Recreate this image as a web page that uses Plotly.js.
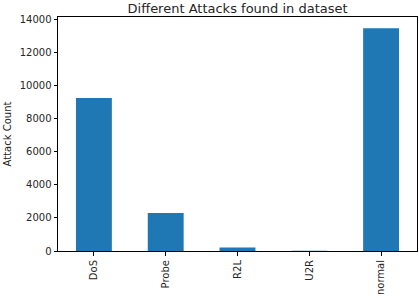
<!DOCTYPE html>
<html><head><meta charset="utf-8">
<script src="https://cdn.plot.ly/plotly-3.0.1.min.js"></script>
<style>html,body{margin:0;padding:0;background:#fff;}#chart{width:419px;height:298px;}</style>
</head><body><div id="chart"></div>
<script>
const categories = ["DoS", "Probe", "R2L", "U2R", "normal"];
const counts = [9234, 2289, 209, 11, 13449];
const yTicks = [0, 2000, 4000, 6000, 8000, 10000, 12000, 14000];

const font = {family: "DejaVu Sans", size: 10, color: "#262626"};
const data = [{
  type: "bar", x: categories, y: counts,
  marker: {color: "#1f77b4", line: {width: 0}}
}];
const layout = {
  width: 419, height: 298,
  margin: {l: 58, r: 2, t: 17, b: 47},
  paper_bgcolor: "#fff", plot_bgcolor: "#fff",
  font: font,
  showlegend: false,
  bargap: 0.5,
  title: {text: "Different Attacks found in dataset", font: {family: "DejaVu Sans", size: 13, color: "#262626"}, x: 0.567, xanchor: "center", y: 0.972, yanchor: "middle"},
  xaxis: {
    range: [-0.5, 4.5], tickangle: -90, ticks: "outside", ticklen: 4, tickcolor: "#000",
    showline: true, linecolor: "#000", linewidth: 1, mirror: true, showgrid: false, zeroline: false,
    tickfont: font, automargin: false
  },
  yaxis: {
    range: [0, 14121], tickvals: yTicks, ticktext: yTicks.map(String),
    ticks: "outside", ticklen: 3.5, tickcolor: "#000",
    showline: true, linecolor: "#000", linewidth: 1, mirror: true, showgrid: false, zeroline: false,
    tickfont: font, automargin: false,
    title: {text: "Attack Count", font: font, standoff: 6}
  }
};
Plotly.newPlot("chart", data, layout, {displayModeBar: false, staticPlot: true});
</script></body></html>
